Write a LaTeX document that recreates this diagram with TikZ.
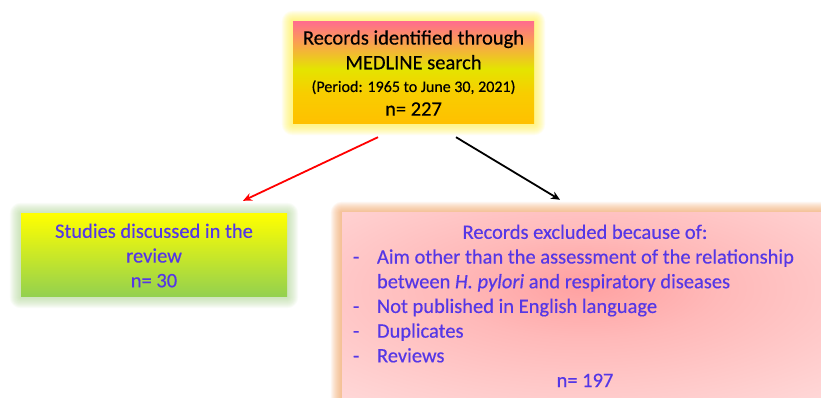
\documentclass[tikz,border=0pt]{standalone}
\usepackage{fontspec}
\setmainfont[FakeBold=0.4]{Carlito}
\usetikzlibrary{arrows.meta,calc,backgrounds}
\pgfdeclarelayer{bottom}
\pgfsetlayers{bottom,background,main}
\definecolor{txtblue}{RGB}{85,55,230}
\definecolor{tgold}{RGB}{255,192,0}
\definecolor{tyel2}{RGB}{248,205,0}
\definecolor{tyel}{RGB}{228,228,0}
\definecolor{torange}{RGB}{250,160,80}
\definecolor{tpink}{RGB}{255,110,140}
\definecolor{lyel}{RGB}{255,255,0}
\definecolor{lmid}{RGB}{232,232,0}
\definecolor{lgreen}{RGB}{146,208,80}
\definecolor{rin}{RGB}{255,160,160}
\definecolor{rmid}{RGB}{255,185,185}
\definecolor{rout}{RGB}{255,218,218}
\definecolor{rcorner}{RGB}{255,232,232}
\definecolor{topglow}{RGB}{255,245,80}
\definecolor{leftglow}{RGB}{175,215,145}
\definecolor{rightglow}{RGB}{245,165,100}
\pgfdeclareverticalshading{topshade}{100bp}{color(0bp)=(tgold); color(25bp)=(tgold); color(40bp)=(tyel2); color(52bp)=(tyel); color(65bp)=(torange); color(75bp)=(tpink); color(100bp)=(tpink)}
\pgfdeclareradialshading{rightshade}{\pgfpoint{0bp}{6bp}}{color(0bp)=(rin); color(14bp)=(rmid); color(40bp)=(rout); color(60bp)=(rcorner); color(80bp)=(rcorner)}
\tikzset{
  boxtext/.style={font=\fontsize{20.5}{24.7}\selectfont, align=center, inner sep=0pt},
  topbox/.style={boxtext, shading=topshade, text=black, minimum width=241pt, minimum height=102pt},
  leftbox/.style={boxtext, top color=lyel, middle color=lmid, bottom color=lgreen, text=txtblue, minimum width=266pt, minimum height=83pt},
  rightbox/.style={shading=rightshade, minimum width=484pt, minimum height=185pt, inner sep=0pt},
  righttext/.style={boxtext, text=txtblue},
  redarrow/.style={draw=red, line width=1.8pt, -{Stealth[length=9pt,width=8pt]}},
  blackarrow/.style={draw=black, line width=1.8pt, -{Stealth[length=9pt,width=8pt]}},
}
\begin{document}
\begin{tikzpicture}[x=1pt,y=1pt]
\clip (0,0) rectangle (821,398);
\begin{pgfonlayer}{bottom}
\fill[white] (0,0) rectangle (821,398);
\end{pgfonlayer}
\node[topbox] (top) at (413.5,325) {Records identified through\\MEDLINE search\\[-2pt]{\fontsize{16}{19}\selectfont (Period: 1965 to June 30, 2021)}\\[-1pt]n= 227};
\node[leftbox] (left) at (154,142.5) {Studies discussed in the\\review\\n= 30};
\node[rightbox] (right) at (584,92.5) {};
\node[righttext] (rtext) at ($(right.center)+(1,-2.5)$) {\begin{tabular}{@{}p{24pt}@{}p{440pt}@{}}
\multicolumn{2}{@{}c@{}}{Records excluded because of:}\\
-&Aim other than the assessment of the relationship\\
&between \textit{H. pylori} and respiratory diseases\\
-&Not published in English language\\
-&Duplicates\\
-&Reviews\\
\multicolumn{2}{@{}c@{}}{n= 197}
\end{tabular}};
\begin{scope}[on background layer]
\foreach \i in {1,...,11}{
  \fill[topglow, opacity=0.09, rounded corners=\i pt] ($(top.south west)+(-\i pt,-\i pt)$) rectangle ($(top.north east)+(\i pt,\i pt)$);
  \fill[leftglow, opacity=0.07, rounded corners=\i pt] ($(left.south west)+(-\i pt,-\i pt)$) rectangle ($(left.north east)+(\i pt,\i pt)$);
  \fill[rightglow, opacity=0.09, rounded corners=\i pt] ($(right.south west)+(-\i pt,-\i pt)$) rectangle ($(right.north east)+(\i pt,\i pt)$);
}
\end{scope}
\draw[redarrow] ($(top.south)+(-35.5,-13)$) -- ($(left.north)+(89,13)$);
\draw[blackarrow] ($(top.south)+(42.5,-13)$) -- ($(right.north)+(-24,13)$);
\end{tikzpicture}
\end{document}
